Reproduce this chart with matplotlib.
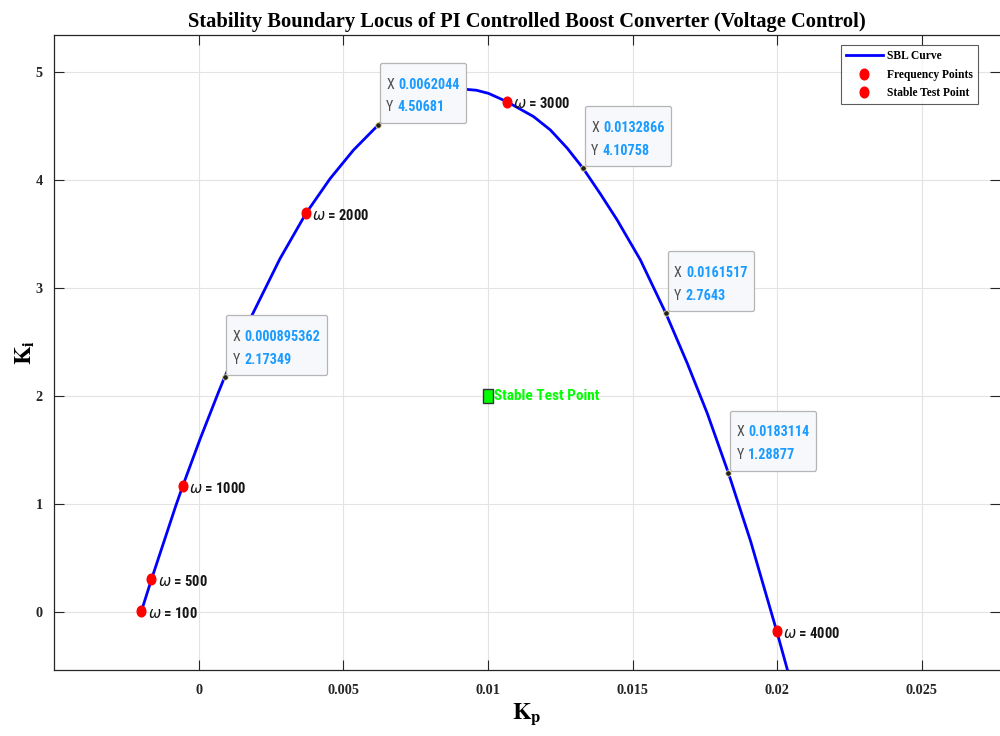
import matplotlib
matplotlib.use("Agg")
import matplotlib.pyplot as plt
from matplotlib import font_manager
from matplotlib.markers import MarkerStyle
from matplotlib.transforms import Affine2D
from matplotlib.offsetbox import (TextArea, HPacker, VPacker, AnnotationBbox,
                                  DrawingArea)

# ---------------- data ----------------
kp = [-0.00198, -0.00163, -0.00079, -0.00055, 0.000045, 0.000678, 0.000895362,
      0.00183, 0.00281, 0.00371, 0.00454, 0.00535, 0.0062044, 0.0070, 0.0078,
      0.0085, 0.009215, 0.0096, 0.01002, 0.010657, 0.011578, 0.012156,
      0.012734, 0.0132866, 0.013886, 0.014464, 0.01527, 0.0161517,
      0.01689, 0.01758, 0.0183114, 0.01908, 0.01998, 0.02038]
ki = [0.009, 0.305, 0.985, 1.168, 1.599, 2.031, 2.17349,
      2.74, 3.27, 3.69, 4.01, 4.275, 4.50681, 4.68, 4.79,
      4.835, 4.838, 4.829, 4.80, 4.723, 4.585, 4.462,
      4.295, 4.10758, 3.87, 3.63, 3.259, 2.7643,
      2.303, 1.841, 1.28877, 0.657, -0.173, -0.56]

freq_labels = ["100", "500", "1000", "2000", "3000", "4000"]
freq_kp = [-0.00198, -0.00163, -0.00055, 0.00371, 0.010657, 0.01998]
freq_ki = [0.009, 0.305, 1.168, 3.69, 4.723, -0.173]

tip_kp = [0.000895362, 0.0062044, 0.0132866, 0.0161517, 0.0183114]
tip_ki = [2.17349, 4.50681, 4.10758, 2.7643, 1.28877]

test_kp = [0.01]
test_ki = [2.0]

xticks = [0, 0.005, 0.01, 0.015, 0.02, 0.025]
xticklabels = ["0", "0.005", "0.01", "0.015", "0.02", "0.025"]
yticks = [0, 1, 2, 3, 4, 5]


# ---------------- fonts ----------------
def pick(cands):
    have = {f.name for f in font_manager.fontManager.ttflist}
    for c in cands:
        if c in have:
            return c
    return "DejaVu Sans"


SERIF = pick(["Liberation Serif", "Tinos", "DejaVu Serif"])
NARROW = pick(["Roboto Condensed", "Archivo Narrow", "PT Sans Narrow",
               "Liberation Sans"])

fig = plt.figure(figsize=(10, 7.36), dpi=100)
ax = fig.add_axes([0.054, 0.0897, 0.946, 0.8623])

ax.plot(kp, ki, color="#0000ff", lw=2.0, label="SBL Curve", zorder=3)

ell = MarkerStyle("o", transform=Affine2D().scale(0.81, 1.0))
ax.plot(freq_kp, freq_ki, ls="none", marker=ell, ms=7.7, mfc="#ff0000",
        mec="#ff0000", label="Frequency Points", zorder=4)
for lab, x, y in zip(freq_labels, freq_kp, freq_ki):
    ax.annotate(r"$\omega$ = " + lab, (x, y), xytext=(4.5, -1.5),
                textcoords="offset points", va="center", ha="left",
                fontsize=10.5, fontweight="bold", family=NARROW,
                color="#151515", math_fontfamily="dejavusans", zorder=6)

sq = MarkerStyle("s", transform=Affine2D().scale(0.78, 1.0))
ax.plot(test_kp, test_ki, ls="none", marker=sq, ms=10, mfc="#00ff00",
        mec="#333333", mew=1.0, zorder=4)
ax.plot([], [], ls="none", marker=ell, ms=7.7, mfc="#ff0000", mec="#ff0000",
        label="Stable Test Point")
ax.annotate("Stable Test Point", (test_kp[0], test_ki[0]), xytext=(4.5, 0),
            textcoords="offset points", va="center", ha="left", fontsize=11,
            fontweight="bold", family=NARROW, color="#00ff00", zorder=6)

# data tips
for x, y in zip(tip_kp, tip_ki):
    ax.plot([x], [y], ls="none", marker="o", ms=4, mfc="#202020",
            mec="#e8e0a0", mew=0.6, zorder=9)
    rows = []
    for lab, val in (("X", x), ("Y", y)):
        rows.append(HPacker(children=[
            TextArea(lab, textprops=dict(color="#4d4d4d", fontsize=10.2,
                                         family=NARROW)),
            TextArea("{:.6g}".format(val),
                     textprops=dict(color="#1a9bff", fontsize=10.2,
                                    fontweight="bold", family=NARROW))],
            pad=0, sep=3, align="baseline"))
    box = VPacker(children=[DrawingArea(0, 6), rows[0], DrawingArea(0, 6.3),
                            rows[1], DrawingArea(0, 1.5)],
                  pad=0, sep=0, align="left")
    ab = AnnotationBbox(box, (x, y), xybox=(5.8, 6.2), xycoords="data",
                        boxcoords="offset points", box_alignment=(0, 0),
                        frameon=True,
                        bboxprops=dict(boxstyle="round,pad=0.45,rounding_size=0.15",
                                       fc="#f7f8fc", ec="#b5b5b5", lw=0.9),
                        zorder=8)
    ax.add_artist(ab)

ax.set_xlim(-0.005, 0.0277)
ax.set_ylim(-0.534, 5.337)
ax.set_xticks(xticks)
ax.set_xticklabels(xticklabels)
ax.set_yticks(yticks)
ax.grid(True, color="#e3e3e3", lw=0.8)
ax.set_axisbelow(True)
ax.tick_params(direction="in", length=7, width=0.8, top=True, right=True,
               colors="#262626", labelsize=10.3)
ax.tick_params(axis="x", pad=10)
ax.tick_params(axis="y", pad=8)
for lbl in ax.get_xticklabels() + ax.get_yticklabels():
    lbl.set_family(SERIF)
    lbl.set_fontweight("bold")
for s in ax.spines.values():
    s.set_color("#262626")
    s.set_linewidth(0.9)
ax.spines["right"].set_visible(False)

ax.set_title("Stability Boundary Locus of PI Controlled Boost Converter (Voltage Control)",
             family=SERIF, fontweight="bold", fontsize=14.8, pad=6)
ax.set_xlabel(r"$\mathbf{K_p}$", fontsize=17, labelpad=3, math_fontfamily="stix")
ax.set_ylabel(r"$\mathbf{K_i}$", fontsize=17, math_fontfamily="stix")
ax.yaxis.set_label_coords(-0.018, 0.5)

leg = ax.legend(loc="upper right", bbox_to_anchor=(0.9767, 0.9847),
                borderaxespad=0, frameon=True, fancybox=False,
                prop=dict(family=SERIF, weight="bold", size=8.3),
                handlelength=3.2, handletextpad=0.35, labelspacing=0.55,
                borderpad=0.45)
leg.get_frame().set_edgecolor("#333333")
leg.get_frame().set_linewidth(0.8)

fig.savefig("out.png", dpi=100)
